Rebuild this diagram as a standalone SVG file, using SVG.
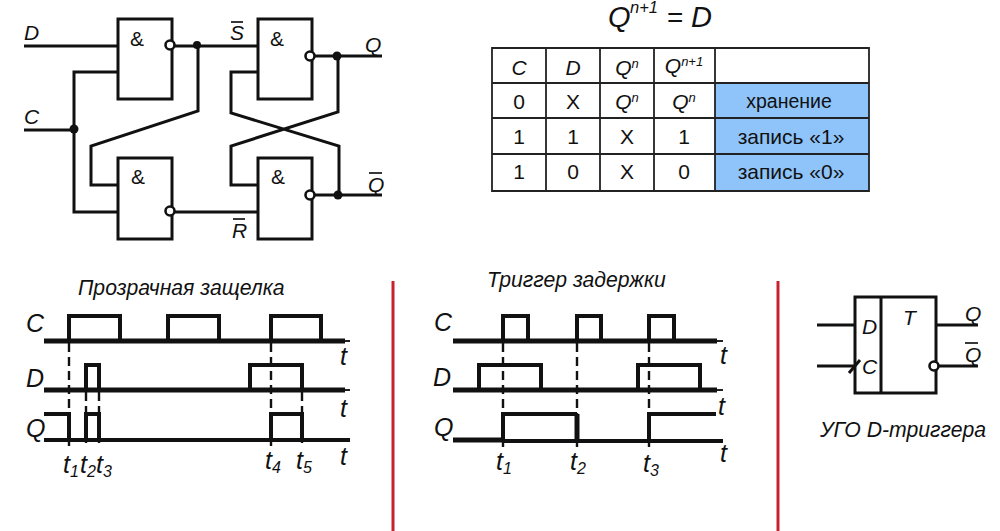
<svg xmlns="http://www.w3.org/2000/svg" width="1000" height="531" viewBox="0 0 1000 531">
<style>
text{font-family:"Liberation Sans",Arial,sans-serif;fill:#111}
.i{font-style:italic}
.l{font-size:21px;font-style:italic}
.w{fill:none;stroke:#111;stroke-width:3;stroke-linejoin:miter}
.g{fill:#fff;stroke:#111;stroke-width:3}
.b{fill:#fff;stroke:#111;stroke-width:2.6}
.j{fill:#111}
.amp{font-size:21px;text-anchor:middle}
.th{fill:none;stroke:#111;stroke-width:4}
.tb{fill:none;stroke:#111;stroke-width:5}
.da{fill:none;stroke:#111;stroke-width:2.4;stroke-dasharray:9 5}
.tc{font-size:21px;text-anchor:middle}
.tl{stroke:#222;stroke-width:1.8;fill:none}
.t{font-size:25px;font-style:italic}
.ti{font-size:21.2px;font-style:italic}
.red{stroke:#c9202e;stroke-width:3;fill:none}
</style>
<rect width="1000" height="531" fill="#fff"/>
<g id="connectors">
<path class="w" d="M24 46H118M24 130H74M118 72H74V212H118M175 46H258M198 46V111L91 146V185H118M315 56H382M338 56V112L231 146V185H258M258 72H231V113L339 146V195M315 195H382M175 212H258"/>
<circle class="j" cx="197" cy="45" r="4"/><circle class="j" cx="74" cy="129" r="4.5"/><circle class="j" cx="337" cy="56" r="4.5"/><circle class="j" cx="338" cy="195" r="4.5"/>
</g>
<g id="gate-1"><rect class="g" x="118" y="19" width="54" height="80"/><text class="amp" x="137" y="46">&amp;</text><circle class="b" cx="170" cy="45" r="4.5"/></g>
<g id="gate-2"><rect class="g" x="258" y="19" width="54" height="80"/><text class="amp" x="277" y="46">&amp;</text><circle class="b" cx="310" cy="56" r="4.5"/></g>
<g id="gate-3"><rect class="g" x="118" y="158" width="54" height="81"/><text class="amp" x="138" y="184">&amp;</text><circle class="b" cx="170" cy="211" r="4.5"/></g>
<g id="gate-4"><rect class="g" x="258" y="158" width="54" height="81"/><text class="amp" x="278" y="184">&amp;</text><circle class="b" cx="310" cy="195" r="4.5"/></g>
<g id="circuit-labels">
<text class="l" x="24" y="40">D</text><text class="l" x="24" y="124">C</text>
<text class="l" x="230" y="40">S</text><path class="tl" d="M231 22H243"/>
<text class="l" x="232" y="238">R</text><path class="tl" d="M233 219H245"/>
<text class="l" x="365" y="52">Q</text><text class="l" x="368" y="192">Q</text><path class="tl" d="M369 173H382"/>
</g>
<g id="formula">
<text class="i" x="608" y="27" font-size="29">Q</text>
<text class="i" x="630" y="13" font-size="16.5">n+1</text>
<text x="667" y="27" font-size="28">=</text>
<text class="i" x="691" y="27" font-size="29">D</text>
</g>
<g id="truth-table">
<rect x="715" y="83" width="154" height="108" fill="#8ec4fa"/>
<path class="tl" d="M492 48H869V191H492ZM492 83H869M492 118H869M492 154H869M546 48V191M600 48V191M654 48V191M715 48V191"/>
<text class="tc i" x="519" y="75">C</text><text class="tc i" x="573" y="75">D</text>
<text class="tc i" x="627" y="75">Q<tspan font-size="13" dy="-7">n</tspan></text>
<text class="tc i" x="684" y="73">Q<tspan font-size="13" dy="-7">n+1</tspan></text>
<text class="tc" x="519" y="109">0</text><text class="tc" x="573" y="109">X</text>
<text class="tc i" x="627" y="109">Q<tspan font-size="13" dy="-7">n</tspan></text>
<text class="tc i" x="684" y="109">Q<tspan font-size="13" dy="-7">n</tspan></text>
<text class="tc" x="519" y="144">1</text><text class="tc" x="573" y="144">1</text><text class="tc" x="627" y="144">X</text><text class="tc" x="684" y="144">1</text>
<text class="tc" x="519" y="179">1</text><text class="tc" x="573" y="179">0</text><text class="tc" x="627" y="179">X</text><text class="tc" x="684" y="179">0</text>
<text x="789" y="108" font-size="19.5" text-anchor="middle">хранение</text>
<text class="tc" x="791" y="144">запись «1»</text>
<text class="tc" x="791" y="179">запись «0»</text>
</g>
<g id="latch-timing">
<text class="ti" x="78" y="295">Прозрачная защелка</text>
<text class="t" x="26" y="332">C</text><text class="t" x="26" y="387">D</text><text class="t" x="26" y="437">Q</text>
<path class="tb" d="M44 341H345M44 390H345"/><path class="tl" d="M345 341H350M345 390H350"/>
<path class="th" d="M69 341V316H120V341M168 341V316H219V341M271 341V316H321V341M86 390V365H99V390M250 390V365H302V390"/>
<path class="th" d="M44 414H69V440M86 440V414H99V440M271 440V414H302V440M44 440H350"/>
<path class="da" d="M69 343V446M86 392V446M99 392V446M271 343V446M302 392V446"/>
<text class="t" x="340" y="365">t</text><text class="t" x="340" y="417">t</text><text class="t" x="340" y="465">t</text>
<text class="t" x="63" y="473">t<tspan font-size="16" dy="4">1</tspan></text>
<text class="t" x="80" y="473">t<tspan font-size="16" dy="4">2</tspan></text>
<text class="t" x="96" y="473">t<tspan font-size="16" dy="4">3</tspan></text>
<text class="t" x="265" y="469">t<tspan font-size="16" dy="4">4</tspan></text>
<text class="t" x="296" y="469">t<tspan font-size="16" dy="4">5</tspan></text>
</g>
<path id="divider-1" class="red" d="M393 281V531"/>
<path id="divider-2" class="red" d="M778 281V531"/>
<g id="trigger-timing">
<text class="ti" x="487" y="287">Триггер задержки</text>
<text class="t" x="434" y="331">C</text><text class="t" x="433" y="386">D</text><text class="t" x="434" y="436">Q</text>
<path class="tb" d="M453 341H717M453 390H717M453 440H503"/><path class="tl" d="M717 341H723M717 390H723"/>
<path class="th" d="M503 341V316H528V341M577 341V316H601V341M649 341V316H674V341M479 390V365H541V390M638 390V365H700V390"/>
<path class="th" d="M503 440V414H577M649 440V414H716M503 441H723"/>
<path class="tb" d="M577 414V441"/>
<path class="da" d="M503 343V447M577 343V447M649 343V447"/>
<text class="t" x="720" y="364">t</text><text class="t" x="718" y="415">t</text><text class="t" x="720" y="462">t</text>
<text class="t" x="496" y="470">t<tspan font-size="16" dy="4">1</tspan></text>
<text class="t" x="570" y="470">t<tspan font-size="16" dy="4">2</tspan></text>
<text class="t" x="643" y="472">t<tspan font-size="16" dy="4">3</tspan></text>
</g>
<g id="ugo-symbol">
<path class="w" d="M817 325H855M817 366H855M936 325H978M938 366H978"/>
<rect class="g" x="855" y="297" width="81" height="96" fill="none" style="fill:#fff"/>
<path class="w" d="M881 297V393M849 373L860 360"/>
<circle class="b" cx="934" cy="366" r="4.5"/>
<text class="l" x="862" y="334">D</text><text class="l" x="862" y="374">C</text><text class="l" x="903" y="325">T</text>
<text class="l" x="965" y="321">Q</text><text class="l" x="965" y="362">Q</text><path class="tl" d="M965 343H978"/>
<text class="ti" x="820" y="437">УГО D-триггера</text>
</g>
</svg>
